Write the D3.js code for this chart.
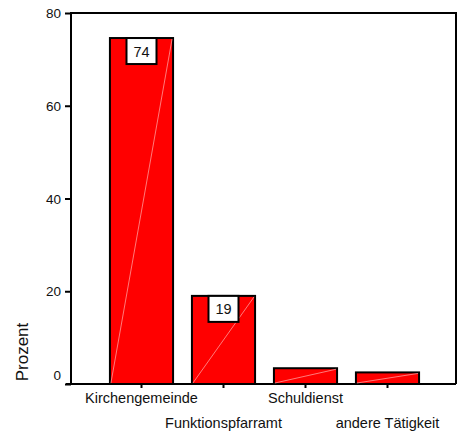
<!DOCTYPE html>
<html lang="de">
<head>
  <meta charset="UTF-8">
  <title>Prozent nach Tätigkeit</title>
  <script src="https://d3js.org/d3.v7.min.js"></script>
  <style>
    body { margin: 0; background: #fff; }
    text { font-family: "Liberation Sans", Arial, sans-serif; fill: #111; }
    .bar { fill: #ff0000; stroke: #000; stroke-width: 2px; }
    .shine { stroke: #ffc0c0; stroke-width: 0.8px; stroke-opacity: 0.8; }
    .frame { fill: none; stroke: #000; stroke-width: 2px; }
    .lbl rect { fill: #fff; stroke: #000; stroke-width: 2px; }
  </style>
</head>
<body>
<svg width="458" height="437" id="chart"></svg>

<script>
  const categories = ['Kirchengemeinde', 'Funktionspfarramt', 'Schuldienst', 'andere Tätigkeit'];
  const values = [74.6, 19.0, 3.4, 2.5];
  const valueLabels = ['74', '19', null, null];
  const yTicks = [0, 20, 40, 60, 80];

  const svg = d3.select('#chart');
  const plotLeft = 71, plotRight = 456, plotTop = 13, plotBottom = 384;

  const x = d3.scaleBand()
    .domain(categories)
    .range([100.5, 428.5])
    .paddingInner(0.23)
    .paddingOuter(0.115);

  const y = d3.scaleLinear().domain([0, 80]).range([plotBottom, plotTop]);

  // frame
  svg.append('path')
    .attr('class', 'frame')
    .attr('d', `M${plotLeft},${plotBottom}V${plotTop}H${plotRight}V${plotBottom}`);

  // y axis
  const yAxis = svg.append('g')
    .attr('transform', `translate(${plotLeft},0)`)
    .call(d3.axisLeft(y).tickValues(yTicks).tickSize(6).tickPadding(4));
  yAxis.select('.domain').remove();
  yAxis.selectAll('line').attr('stroke', '#000').attr('stroke-width', 2);
  yAxis.selectAll('text')
    .style('font-size', '13.5px')
    .attr('dy', d => d === 0 ? '-0.3em' : '0.34em');

  // x axis
  const xAxis = svg.append('g')
    .attr('transform', `translate(0,${plotBottom})`)
    .call(d3.axisBottom(x).tickSize(4).tickFormat(''));
  xAxis.select('.domain').remove();
  xAxis.selectAll('line').attr('stroke', '#000').attr('stroke-width', 2);
  svg.append('line')
    .attr('x1', plotLeft - 5).attr('x2', plotRight)
    .attr('y1', plotBottom).attr('y2', plotBottom)
    .attr('stroke', '#000').attr('stroke-width', 2);

  svg.append('g').selectAll('text')
    .data(categories)
    .enter()
    .append('text')
    .attr('x', d => x(d) + x.bandwidth() / 2)
    .attr('y', (d, i) => i % 2 === 0 ? 403 : 428)
    .attr('text-anchor', 'middle')
    .style('font-size', '14.5px')
    .text(d => d);

  // bars
  const bars = svg.append('g').selectAll('g')
    .data(categories)
    .enter()
    .append('g');

  bars.append('rect')
    .attr('class', 'bar')
    .attr('x', d => x(d))
    .attr('y', (d, i) => y(values[i]))
    .attr('width', x.bandwidth())
    .attr('height', (d, i) => plotBottom - y(values[i]));

  bars.append('line')
    .attr('class', 'shine')
    .attr('x1', d => x(d) + 1)
    .attr('y1', plotBottom - 1)
    .attr('x2', d => x(d) + x.bandwidth() - 1)
    .attr('y2', (d, i) => y(values[i]) + 1);

  // value labels
  const lbl = svg.append('g').selectAll('g')
    .data(categories.filter((d, i) => valueLabels[i] !== null))
    .enter()
    .append('g')
    .attr('class', 'lbl')
    .attr('transform', d => {
      const i = categories.indexOf(d);
      return `translate(${x(d) + x.bandwidth() / 2},${y(values[i])})`;
    });

  lbl.append('rect')
    .attr('x', -15).attr('y', 0)
    .attr('width', 30).attr('height', 26);

  lbl.append('text')
    .attr('y', 18.5)
    .attr('text-anchor', 'middle')
    .style('font-size', '14.5px')
    .text(d => valueLabels[categories.indexOf(d)]);

  // y title
  svg.append('text')
    .attr('transform', 'translate(28,352) rotate(-90)')
    .attr('text-anchor', 'middle')
    .style('font-size', '17px')
    .text('Prozent');
</script>
</body>
</html>
